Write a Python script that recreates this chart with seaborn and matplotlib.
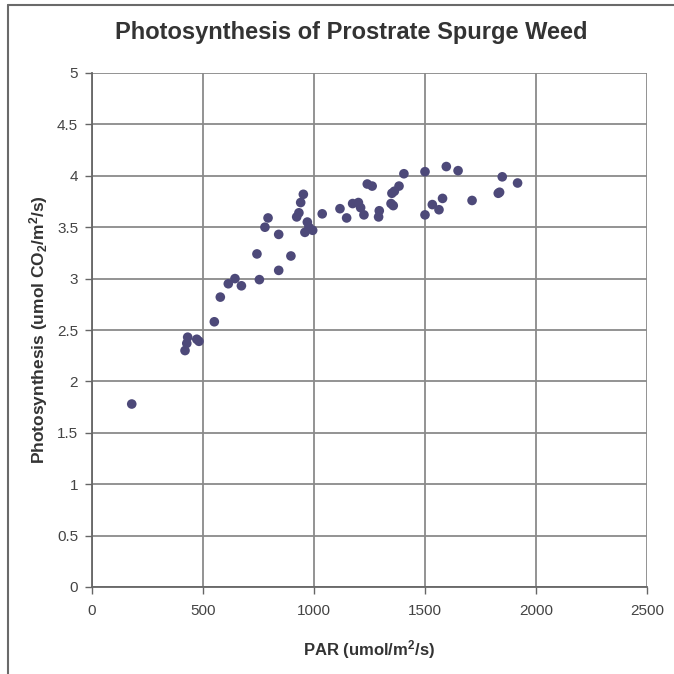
import matplotlib
matplotlib.use('Agg')
import matplotlib.pyplot as plt
import pandas as pd
import seaborn as sns

# PAR (umol/m2/s) and photosynthesis (umol CO2/m2/s)
par = [179, 419, 427, 431, 472, 482, 551, 578, 614, 644, 673, 743, 754, 779,
       793, 841, 841, 896, 922, 932, 940, 952, 959, 970, 977, 994, 1037, 1117,
       1147, 1174, 1200, 1210, 1225, 1240, 1262, 1291, 1294, 1347, 1351, 1357,
       1362, 1383, 1405, 1500, 1500, 1533, 1563, 1579, 1596, 1649, 1712, 1830,
       1836, 1848, 1917]
photo = [1.78, 2.30, 2.37, 2.43, 2.41, 2.39, 2.58, 2.82, 2.95, 3.00, 2.93,
         3.24, 2.99, 3.50, 3.59, 3.43, 3.08, 3.22, 3.60, 3.64, 3.74, 3.82, 3.45,
         3.55, 3.50, 3.47, 3.63, 3.68, 3.59, 3.73, 3.74, 3.69, 3.62, 3.92, 3.90,
         3.60, 3.66, 3.73, 3.83, 3.71, 3.85, 3.90, 4.02, 4.04, 3.62, 3.72, 3.67,
         3.78, 4.09, 4.05, 3.76, 3.83, 3.84, 3.99, 3.93]

df = pd.DataFrame({'PAR': par, 'Photosynthesis': photo})

sns.set_style('white')
plt.rcParams['font.family'] = ['Liberation Sans', 'DejaVu Sans']
plt.rcParams['mathtext.fontset'] = 'custom'
plt.rcParams['mathtext.rm'] = 'Liberation Sans:bold'
plt.rcParams['mathtext.it'] = 'Liberation Sans:bold'
plt.rcParams['mathtext.bf'] = 'Liberation Sans:bold'

fig = plt.figure(figsize=(6.74, 6.74), dpi=100)
ax = fig.add_axes([92 / 674, 87 / 674, 555 / 674, 514 / 674])

sns.scatterplot(data=df, x='PAR', y='Photosynthesis', ax=ax, s=48,
                color='#4d4979', edgecolor='none', zorder=3)

ax.set_xlim(0, 2500)
ax.set_ylim(0, 5)
ax.set_xticks(range(0, 2501, 500))
ax.set_yticks([i * 0.5 for i in range(11)])
ax.set_yticklabels(['0', '0.5', '1', '1.5', '2', '2.5', '3', '3.5', '4', '4.5', '5'])
ax.grid(True, color='#8a8a8a', linewidth=1.3)
ax.tick_params(axis='both', direction='out', length=5, width=1, color='#666666',
               labelsize=11, labelcolor='#444444', pad=5, left=True, bottom=True)
ax.tick_params(axis='x', pad=7)
for side in ['top', 'right']:
    ax.spines[side].set_visible(False)
for side in ['left', 'bottom']:
    ax.spines[side].set_color('#666666')
    ax.spines[side].set_linewidth(1.3)

ax.set_xlabel(r'PAR (umol/m$^2$/s)', fontsize=12, fontweight='bold',
              color='#333333', labelpad=15)
ax.set_ylabel(r'Photosynthesis (umol CO$_2$/m$^2$/s)', fontsize=12.5,
              fontweight='bold', color='#333333', labelpad=5)

fig.text(351 / 674, 1 - 33 / 674, 'Photosynthesis of Prostrate Spurge Weed',
         ha='center', va='center', fontsize=17, fontweight='bold', color='#333333')

# thin frame along the top and left edges of the image
fig.add_artist(plt.Line2D([7.5 / 674, 7.5 / 674], [0, 1 - 4.5 / 674],
                          color='#6a6a6a', linewidth=1.5))
fig.add_artist(plt.Line2D([7.5 / 674, 1], [1 - 4.5 / 674, 1 - 4.5 / 674],
                          color='#6a6a6a', linewidth=1.5))

fig.savefig('out.png', dpi=100, facecolor='white')
